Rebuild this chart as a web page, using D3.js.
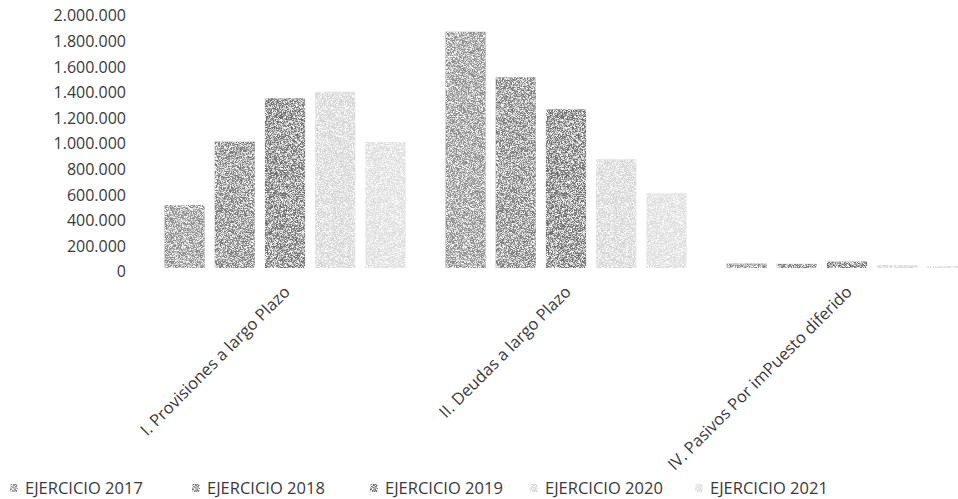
<!DOCTYPE html>
<html>
<head>
<meta charset="utf-8">
<script src="https://cdn.jsdelivr.net/npm/d3@7"></script>
<style>
  html, body { margin: 0; padding: 0; background: #fff; overflow: hidden; }
  svg { display: block; }
  text { font-family: "Open Sans", "Noto Sans", sans-serif; fill: #3a3a3a; }
</style>
</head>
<body>
<svg id="chart" width="958" height="499"></svg>
<script>
// ---- data ----
const categories = [
  "I. Provisiones a largo Plazo",
  "II. Deudas a largo Plazo",
  "IV. Pasivos Por imPuesto diferido"
];
const seriesNames = ["EJERCICIO 2017", "EJERCICIO 2018", "EJERCICIO 2019", "EJERCICIO 2020", "EJERCICIO 2021"];
const values2017 = [492000, 1846000, 35000];
const values2018 = [987000, 1490000, 32000];
const values2019 = [1326000, 1240000, 50000];
const values2020 = [1377000, 849000, 22000];
const values2021 = [985000, 583000, 15000];
const yTicks = [0, 200000, 400000, 600000, 800000, 1000000, 1200000, 1400000, 1600000, 1800000, 2000000];

const seriesValues = [values2017, values2018, values2019, values2020, values2021];
const seriesColors = ["#8c8c8c", "#7c7c7c", "#707070", "#d4d4d4", "#dcdcdc"];

// ---- layout ----
const svg = d3.select("#chart");

const y = d3.scaleLinear().domain([0, 2000000]).range([268, 12]);
const x0 = d3.scaleBand().domain(categories).range([144.5, 987.5])
  .paddingInner(0.1423).paddingOuter(0.0712);
const x1 = d3.scaleBand().domain(seriesNames).range([0, x0.bandwidth()])
  .paddingInner(0.2).paddingOuter(0);

const loc = d3.formatLocale({ decimal: ",", thousands: ".", grouping: [3], currency: ["", ""] });
const fmt = loc.format(",d");

// grain filter to mimic the scanned stipple
const defs = svg.append("defs");
const f = defs.append("filter").attr("id", "grain")
  .attr("x", 0).attr("y", 0).attr("width", 1).attr("height", 1);
f.append("feTurbulence").attr("type", "fractalNoise").attr("baseFrequency", 1.8)
  .attr("numOctaves", 1).attr("seed", 3).attr("result", "noise");
f.append("feColorMatrix").attr("in", "noise").attr("type", "matrix")
  .attr("values", "0 0 0 0 1  0 0 0 0 1  0 0 0 0 1  0 0 0 -4 2.3").attr("result", "white");
f.append("feComposite").attr("in", "white").attr("in2", "SourceGraphic")
  .attr("operator", "in").attr("result", "speck");
const fm = f.append("feMerge");
fm.append("feMergeNode").attr("in", "SourceGraphic");
fm.append("feMergeNode").attr("in", "speck");

// y axis
const yAxis = d3.axisLeft(y).tickValues(yTicks).tickFormat(fmt).tickSize(0).tickPadding(0);
const gy = svg.append("g").attr("transform", "translate(126,0)").call(yAxis);
gy.select(".domain").remove();
gy.selectAll("text")
  .attr("dy", "0.55em")
  .style("font-size", "16px")
  .style("font-family", '"Open Sans", sans-serif')
  .attr("fill", "#404040");

// bars
const groups = svg.append("g").selectAll("g")
  .data(categories)
  .join("g")
  .attr("transform", d => `translate(${x0(d)},0)`);

groups.selectAll("rect")
  .data((d, ci) => seriesNames.map((s, si) => ({ s, si, v: seriesValues[si][ci] })))
  .join("rect")
  .attr("x", d => x1(d.s))
  .attr("y", d => y(d.v))
  .attr("width", x1.bandwidth())
  .attr("height", d => y(0) - y(d.v))
  .attr("fill", d => seriesColors[d.si])
  .attr("filter", "url(#grain)");

// category labels, rotated -45
svg.append("g").selectAll("text")
  .data(categories)
  .join("text")
  .attr("transform", d => `translate(${x0(d) + x0.bandwidth() / 2 + 6},293) rotate(-45)`)
  .attr("text-anchor", "end")
  .style("font-size", "16.5px")
  .attr("fill", "#404040")
  .text(d => d);

// legend
const legendX = [10, 192, 370, 530, 695];
const lg = svg.append("g").selectAll("g")
  .data(seriesNames)
  .join("g")
  .attr("transform", (d, i) => `translate(${legendX[i]},488)`);
lg.append("rect")
  .attr("x", 0).attr("y", -4).attr("width", 8).attr("height", 8)
  .attr("fill", (d, i) => seriesColors[i])
  .attr("filter", "url(#grain)");
lg.append("text")
  .attr("x", 15).attr("y", 0).attr("dy", "0.36em")
  .style("font-size", "16.5px")
  .attr("fill", "#404040")
  .text(d => d);
</script>
</body>
</html>
